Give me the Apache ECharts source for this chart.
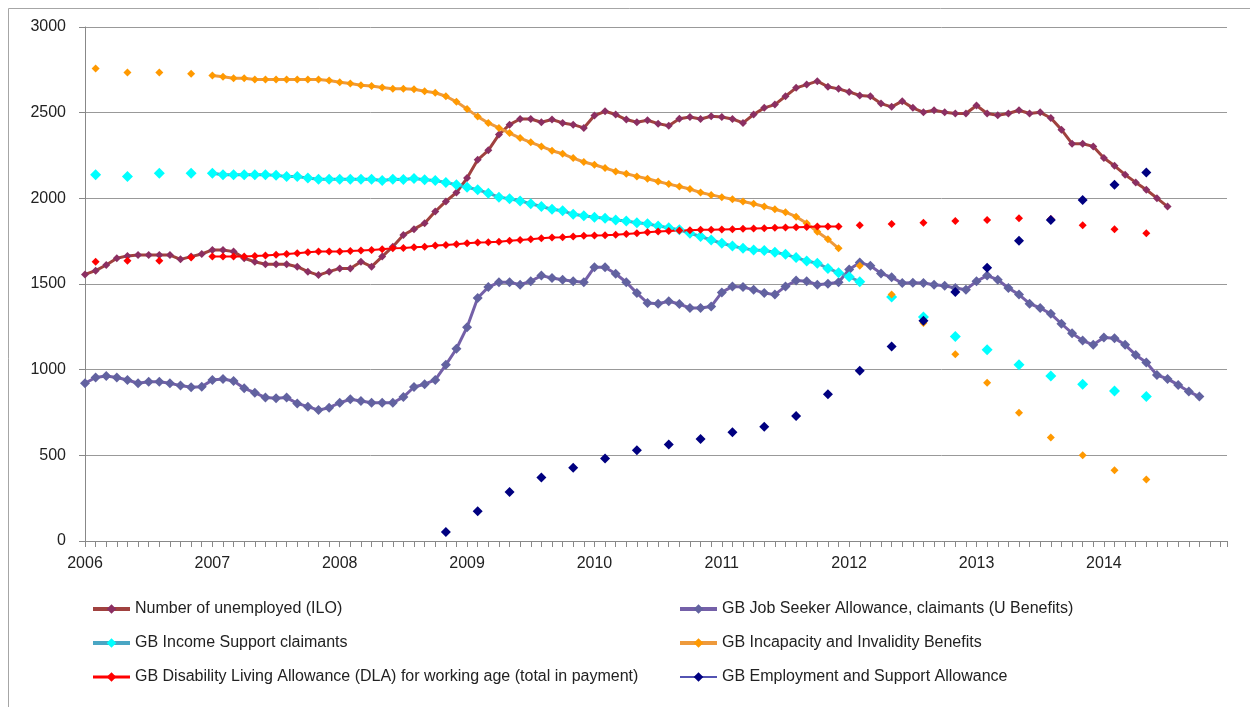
<!DOCTYPE html>
<html><head><meta charset="utf-8">
<script src="https://cdn.jsdelivr.net/npm/echarts@6/dist/echarts.min.js"></script>
<style>html,body{margin:0;padding:0;background:#fff}#c{width:1250px;height:707px}</style>
</head><body><div id="c"></div>
<script>
// ---------- tick labels ----------
const yearLabels = ['2006','2007','2008','2009','2010','2011','2012','2013','2014'];

// ---------- series names ----------
const names = [
  'Number of unemployed (ILO)',
  'GB Job Seeker Allowance, claimants (U Benefits)',
  'GB Income Support claimants',
  'GB Incapacity and Invalidity Benefits',
  'GB Disability Living Allowance (DLA) for working age (total in payment)',
  'GB Employment and Support Allowance'
];

// ---------- data (thousands) ----------
// Number of unemployed (ILO), monthly from Jan 2006
const unemployedStart = '2006-01';
const unemployed = [1556,1578,1611,1650,1664,1669,1669,1669,1669,1644,1660,1675,
  1699,1699,1689,1650,1630,1615,1615,1615,1601,1572,1552,1572,
  1591,1591,1630,1601,1660,1718,1786,1820,1855,1923,1982,2034,
  2118,2225,2280,2372,2430,2463,2463,2444,2460,2440,2430,2411,
  2483,2508,2489,2460,2444,2456,2436,2424,2465,2475,2463,2479,
  2475,2463,2440,2489,2528,2547,2596,2645,2664,2684,2651,2639,
  2621,2600,2596,2553,2534,2567,2528,2502,2514,2502,2495,2495,
  2542,2495,2485,2495,2514,2495,2502,2469,2401,2319,2319,2303,
  2235,2190,2138,2093,2050,2001,1952];

// GB Job Seeker Allowance, monthly from Jan 2006
const jsaStart = '2006-01';
const jsa = [921,954,963,954,940,921,930,930,921,907,897,901,
  940,946,934,891,866,837,833,837,803,784,764,778,
  807,827,817,807,807,807,840,899,915,940,1028,1122,
  1248,1418,1482,1510,1510,1496,1516,1549,1535,1525,1516,1510,
  1598,1598,1560,1510,1447,1389,1385,1399,1383,1360,1360,1369,
  1451,1486,1482,1467,1447,1438,1486,1520,1516,1496,1502,1510,
  1585,1625,1607,1562,1539,1506,1507,1506,1496,1490,1477,1467,
  1516,1549,1525,1477,1438,1385,1360,1326,1268,1213,1170,1145,
  1188,1184,1145,1086,1042,969,946,911,872,843];

// Quarterly observation dates
const q2006Dates = ['2006-02','2006-05','2006-08','2006-11'];
const q2012Dates = ['2012-02','2012-05','2012-08','2012-11','2013-02','2013-05','2013-08','2013-11','2014-02','2014-05'];
const isLateDates = ['2012-05','2012-08','2012-11','2013-02','2013-05','2013-08','2013-11','2014-02','2014-05'];
const esaDates = ['2008-11','2009-02','2009-05','2009-08','2009-11','2010-02','2010-05','2010-08','2010-11',
  '2011-02','2011-05','2011-08','2011-11','2012-02','2012-05','2012-08','2012-11',
  '2013-02','2013-05','2013-08','2013-11','2014-02','2014-05'];

// GB Income Support claimants
const isEarly = [2138,2128,2147,2147];
const isMonthlyStart = '2007-01';
const isMonthly = [2147,2138,2138,2138,2138,2138,2134,2128,2128,2118,2112,2112,
  2112,2112,2112,2112,2104,2112,2110,2116,2108,2104,2093,2079,
  2065,2050,2030,2007,1997,1985,1968,1952,1936,1927,1907,1898,
  1890,1884,1874,1868,1858,1851,1839,1829,1816,1796,1777,1757,
  1738,1722,1708,1699,1695,1685,1673,1654,1634,1621,1591,1566,
  1543,1513];
const isLate = [1424,1307,1194,1116,1028,963,915,876,843];

// GB Incapacity and Invalidity Benefits
const incapEarly = [2758,2735,2735,2727];
const incapMonthlyStart = '2007-01';
const incapMonthly = [2717,2709,2701,2701,2694,2694,2694,2694,2694,2694,2694,2688,
  2678,2670,2660,2655,2647,2639,2639,2637,2625,2616,2596,2563,
  2522,2477,2440,2411,2381,2352,2327,2303,2278,2260,2235,2212,
  2196,2177,2157,2143,2128,2114,2098,2083,2069,2054,2034,2020,
  2007,1995,1981,1968,1952,1936,1919,1893,1854,1805,1761,1708];
const incapLate = [1607,1438,1272,1090,924,749,604,501,413,359];

// GB Disability Living Allowance (working age)
const dlaEarly = [1630,1636,1636,1654];
const dlaMonthlyStart = '2007-01';
const dlaMonthly = [1660,1660,1660,1660,1664,1667,1671,1675,1679,1685,1689,1689,
  1689,1693,1695,1699,1703,1708,1710,1714,1718,1724,1728,1732,
  1738,1742,1744,1747,1753,1757,1761,1767,1771,1773,1777,1781,
  1783,1785,1788,1792,1796,1802,1806,1810,1812,1814,1816,1816,
  1818,1820,1822,1824,1826,1828,1830,1831,1833,1835,1835,1835];
const dlaLate = [1843,1850,1858,1868,1874,1884,1880,1843,1820,1796];

// GB Employment and Support Allowance (quarterly)
const esa = [52,173,286,370,427,481,530,563,595,634,667,729,856,993,1135,1285,1453,1595,1753,1874,1991,2079,2151];

// ---------- helpers ----------
function toM(s){ return (parseInt(s.slice(0,4),10)-2006)*12 + parseInt(s.slice(5,7),10)-1; }
function run(start, vals){ const s=toM(start); return vals.map((v,i)=>[s+i, v]); }
function dots(dates, vals){ const out=[]; vals.forEach((v,i)=>{ const m=toM(dates[i]); out.push([m,v]); out.push([m+0.5,null]); }); return out; }
function join(){ const out=[]; for(let i=0;i<arguments.length;i++){ const seg=arguments[i]; if(out.length && out[out.length-1][1]!==null){ out.push([seg[0][0]-0.5,null]); } seg.forEach(p=>out.push(p)); } return out; }

const styles = [
  {line:'#a0413f', mark:'#8b2f62', lw:3, ms:8, legendW:4},
  {line:'#7460a8', mark:'#6262a0', lw:3, ms:10, legendW:4},
  {line:'#4aa6c4', mark:'#00ffff', lw:3, ms:11, legendW:4},
  {line:'#ee9a3c', mark:'#ff9900', lw:3, ms:8, legendW:4},
  {line:'#ff0000', mark:'#ff0000', lw:2, ms:8, legendW:3},
  {line:'#1a1a99', mark:'#000080', lw:1.5, ms:10, legendW:1.5}
];

const seriesData = [
  run(unemployedStart, unemployed),
  run(jsaStart, jsa),
  join(dots(q2006Dates, isEarly), run(isMonthlyStart, isMonthly), dots(isLateDates, isLate)),
  join(dots(q2006Dates, incapEarly), run(incapMonthlyStart, incapMonthly), dots(q2012Dates, incapLate)),
  join(dots(q2006Dates, dlaEarly), run(dlaMonthlyStart, dlaMonthly), dots(q2012Dates, dlaLate)),
  dots(esaDates, esa)
];

const series = seriesData.map((d,i)=>({
  name: names[i], type:'line', data:d,
  symbol:'diamond', symbolSize: styles[i].ms, showSymbol:true, showAllSymbol:true,
  connectNulls:false, animation:false, silent:true,
  itemStyle:{color:styles[i].mark},
  lineStyle:{color:styles[i].line, width:styles[i].lw},
  emphasis:{disabled:true}
}));

const font = 'Liberation Sans, Arial, sans-serif';
function legendItem(i){ return {name:names[i], lineStyle:{width:styles[i].legendW, color:styles[i].line}}; }
const legendBase = {orient:'vertical', itemWidth:37, itemHeight:12, itemGap:18, padding:0,
  textStyle:{fontSize:16, color:'#222', fontFamily:font, lineHeight:16}, selectedMode:false};

const chart = echarts.init(document.getElementById('c'), null, {renderer:'canvas'});
chart.setOption({
  backgroundColor:'#ffffff',
  animation:false,
  graphic:[{type:'rect', shape:{x:8.5, y:8.5, width:1270, height:720}, style:{fill:'none', stroke:'#a6a6a6', lineWidth:1}, silent:true}],
  grid:{left:85, right:23, top:27, bottom:166},
  legend:[
    Object.assign({left:91, top:601, data:[legendItem(0),legendItem(2),legendItem(4)]}, legendBase),
    Object.assign({left:678, top:601, data:[legendItem(1),legendItem(3),legendItem(5)]}, legendBase)
  ],
  xAxis:{type:'value', min:0, max:107.6, interval:12,
    axisLine:{show:true, lineStyle:{color:'#888'}},
    axisTick:{show:true, length:6, lineStyle:{color:'#888'}},
    minorTick:{show:true, splitNumber:12, length:6, lineStyle:{color:'#888'}},
    splitLine:{show:false},
    axisLabel:{fontSize:16, color:'#222', fontFamily:font, margin:15, showMaxLabel:false,
      formatter:function(v){ const k=Math.round(v); if(k%12!==0) return ''; const idx=k/12; return yearLabels[idx]||''; }}
  },
  yAxis:{type:'value', min:0, max:3000, interval:500,
    axisLine:{show:true, lineStyle:{color:'#888'}},
    axisTick:{show:true, length:6, lineStyle:{color:'#888'}},
    splitLine:{show:true, lineStyle:{color:'#999', width:1}},
    axisLabel:{fontSize:16, color:'#222', fontFamily:font, margin:19,
      formatter:function(v){ return String(v); }}
  },
  series: series
});
</script></body></html>
